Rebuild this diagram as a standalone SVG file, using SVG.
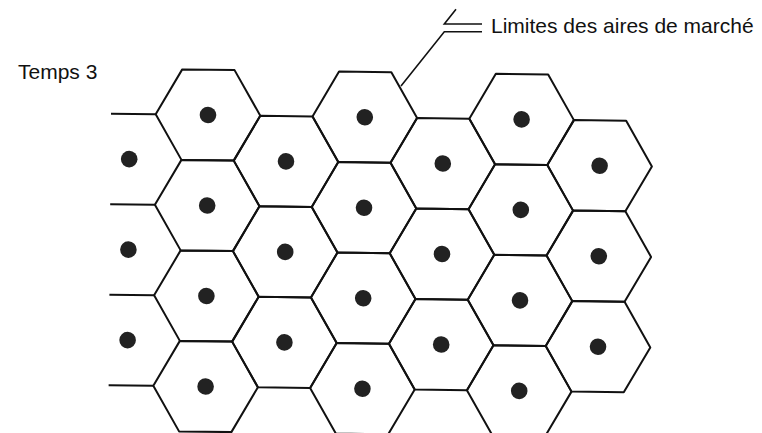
<svg xmlns="http://www.w3.org/2000/svg" xmlns:xlink="http://www.w3.org/1999/xlink" width="762" height="433" viewBox="0 0 762 433">
<style>
.hex{fill:none;stroke:#111;stroke-width:2;stroke-linejoin:round}
.dot{fill:#222}
.ln{fill:none;stroke:#111;stroke-width:1.6}
.txt{font-family:"Liberation Sans",Arial,sans-serif;font-size:21px;fill:#111}
</style>
<defs>
<polygon id="hx" class="hex" points="-52.3,0 -26.15,-45.25 26.15,-45.25 52.3,0 26.15,45.25 -26.15,45.25"/>
</defs>
<rect width="762" height="433" fill="#fff"/>
<text class="txt" x="18" y="78.5">Temps 3</text>
<text class="txt" x="491" y="33">Limites des aires de marché</text>
<g id="connectors">
<polyline class="ln" points="401,86 444.3,31.7 482,31.7"/>
<polyline class="ln" points="456,9.3 444.3,24 482,24"/>
</g>
<g transform="matrix(1 0.014 -0.0088 1 208 115)">
<g id="stubs">
<line class="hex" x1="-97" y1="0" x2="-52.3" y2="0"/>
<line class="hex" x1="-97" y1="90.5" x2="-52.3" y2="90.5"/>
<line class="hex" x1="-97" y1="181" x2="-52.3" y2="181"/>
<line class="hex" x1="-97" y1="271.5" x2="-52.3" y2="271.5"/>
</g>
<g id="c0r0"><circle class="dot" cx="-78.4" cy="45.25" r="8.3"/></g>
<g id="c0r1"><circle class="dot" cx="-78.4" cy="135.75" r="8.3"/></g>
<g id="c0r2"><circle class="dot" cx="-78.4" cy="226.25" r="8.3"/></g>

<g id="c1r0"><use xlink:href="#hx" x="0" y="0"/><circle class="dot" cx="0" cy="0" r="8.3"/></g>
<g id="c1r1"><use xlink:href="#hx" x="0" y="90.5"/><circle class="dot" cx="0" cy="90.5" r="8.3"/></g>
<g id="c1r2"><use xlink:href="#hx" x="0" y="181"/><circle class="dot" cx="0" cy="181" r="8.3"/></g>
<g id="c1r3"><use xlink:href="#hx" x="0" y="271.5"/><circle class="dot" cx="0" cy="271.5" r="8.3"/></g>

<g id="c2r0"><use xlink:href="#hx" x="78.4" y="45.25"/><circle class="dot" cx="78.4" cy="45.25" r="8.3"/></g>
<g id="c2r1"><use xlink:href="#hx" x="78.4" y="135.75"/><circle class="dot" cx="78.4" cy="135.75" r="8.3"/></g>
<g id="c2r2"><use xlink:href="#hx" x="78.4" y="226.25"/><circle class="dot" cx="78.4" cy="226.25" r="8.3"/></g>

<g id="c3r0"><use xlink:href="#hx" x="156.8" y="0"/><circle class="dot" cx="156.8" cy="0" r="8.3"/></g>
<g id="c3r1"><use xlink:href="#hx" x="156.8" y="90.5"/><circle class="dot" cx="156.8" cy="90.5" r="8.3"/></g>
<g id="c3r2"><use xlink:href="#hx" x="156.8" y="181"/><circle class="dot" cx="156.8" cy="181" r="8.3"/></g>
<g id="c3r3"><use xlink:href="#hx" x="156.8" y="271.5"/><circle class="dot" cx="156.8" cy="271.5" r="8.3"/></g>

<g id="c4r0"><use xlink:href="#hx" x="235.2" y="45.25"/><circle class="dot" cx="235.2" cy="45.25" r="8.3"/></g>
<g id="c4r1"><use xlink:href="#hx" x="235.2" y="135.75"/><circle class="dot" cx="235.2" cy="135.75" r="8.3"/></g>
<g id="c4r2"><use xlink:href="#hx" x="235.2" y="226.25"/><circle class="dot" cx="235.2" cy="226.25" r="8.3"/></g>

<g id="c5r0"><use xlink:href="#hx" x="313.6" y="0"/><circle class="dot" cx="313.6" cy="0" r="8.3"/></g>
<g id="c5r1"><use xlink:href="#hx" x="313.6" y="90.5"/><circle class="dot" cx="313.6" cy="90.5" r="8.3"/></g>
<g id="c5r2"><use xlink:href="#hx" x="313.6" y="181"/><circle class="dot" cx="313.6" cy="181" r="8.3"/></g>
<g id="c5r3"><use xlink:href="#hx" x="313.6" y="271.5"/><circle class="dot" cx="313.6" cy="271.5" r="8.3"/></g>

<g id="c6r0"><use xlink:href="#hx" x="392" y="45.25"/><circle class="dot" cx="392" cy="45.25" r="8.3"/></g>
<g id="c6r1"><use xlink:href="#hx" x="392" y="135.75"/><circle class="dot" cx="392" cy="135.75" r="8.3"/></g>
<g id="c6r2"><use xlink:href="#hx" x="392" y="226.25"/><circle class="dot" cx="392" cy="226.25" r="8.3"/></g>
</g>
</svg>
